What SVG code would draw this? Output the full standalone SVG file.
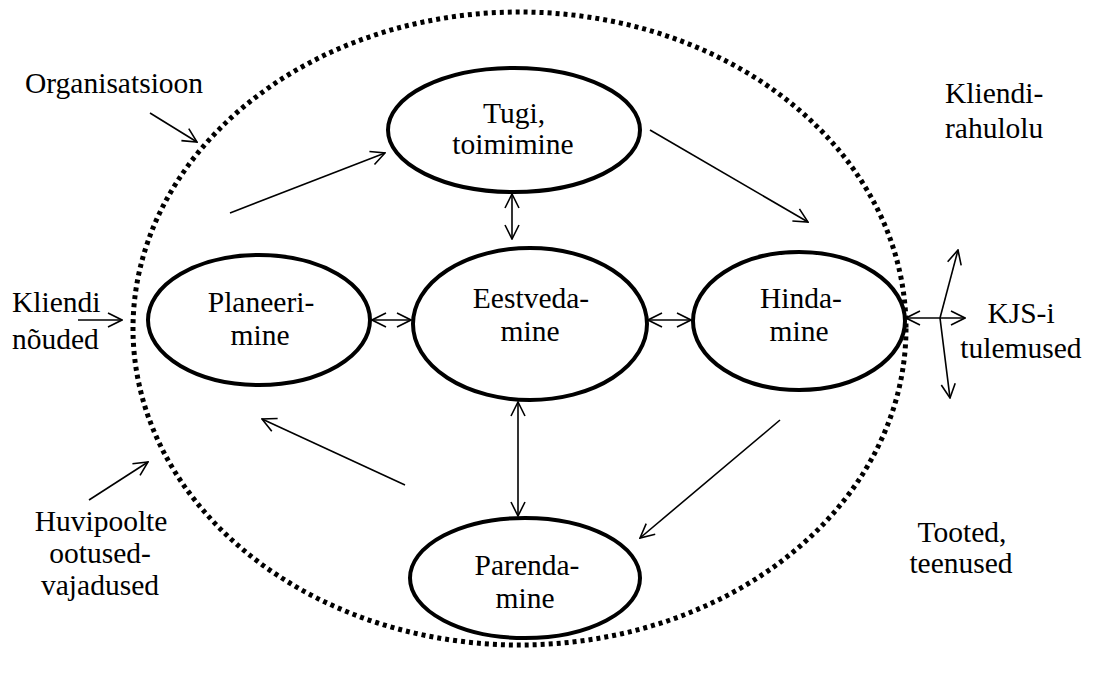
<svg xmlns="http://www.w3.org/2000/svg" width="1093" height="675" viewBox="0 0 1093 675">
  <style>
    .node { fill: #fff; stroke: #000; stroke-width: 4; }
    .org { fill: none; stroke: #000; stroke-width: 5; stroke-dasharray: 4 4; }
    .link { fill: none; stroke: #000; stroke-width: 1.6; }
    text { font-family: "Liberation Serif", "Times New Roman", serif; font-size: 29.5px; fill: #000; }
    .c { text-anchor: middle; }
  </style>
  <defs>
    <marker id="arrow" viewBox="0 0 16 16" refX="15" refY="8" markerWidth="16" markerHeight="16" markerUnits="userSpaceOnUse" orient="auto-start-reverse">
      <path d="M1,1 L15,8 L1,15" fill="none" stroke="#000" stroke-width="1.6"/>
    </marker>
  </defs>

  <rect width="1093" height="675" fill="#fff"/>

  <!-- organisation boundary -->
  <ellipse id="organisatsioon" class="org" cx="519.5" cy="328.5" rx="386.5" ry="316.5"/>

  <!-- connectors -->
  <g id="connectors">
    <line class="link" x1="150" y1="113" x2="197" y2="142" marker-end="url(#arrow)"/>
    <line class="link" x1="78" y1="320" x2="122" y2="320" marker-end="url(#arrow)"/>
    <line class="link" x1="89" y1="500" x2="148" y2="462" marker-end="url(#arrow)"/>
    <line class="link" x1="230" y1="213" x2="385" y2="153" marker-end="url(#arrow)"/>
    <line class="link" x1="650" y1="130" x2="808" y2="222" marker-end="url(#arrow)"/>
    <line class="link" x1="780" y1="420" x2="640" y2="538" marker-end="url(#arrow)"/>
    <line class="link" x1="405" y1="485" x2="262" y2="419" marker-end="url(#arrow)"/>
    <line class="link" x1="372" y1="320" x2="411" y2="320" marker-start="url(#arrow)" marker-end="url(#arrow)"/>
    <line class="link" x1="648" y1="320" x2="691" y2="320" marker-start="url(#arrow)" marker-end="url(#arrow)"/>
    <line class="link" x1="512" y1="194" x2="512" y2="239" marker-start="url(#arrow)" marker-end="url(#arrow)"/>
    <line class="link" x1="518" y1="402" x2="518" y2="516" marker-start="url(#arrow)" marker-end="url(#arrow)"/>
    <line class="link" x1="906" y1="318" x2="965" y2="318" marker-start="url(#arrow)" marker-end="url(#arrow)"/>
    <line class="link" x1="940" y1="318" x2="958" y2="250" marker-end="url(#arrow)"/>
    <line class="link" x1="940" y1="318" x2="950" y2="398" marker-end="url(#arrow)"/>
  </g>

  <!-- process nodes -->
  <g id="tugi">
    <ellipse class="node" cx="514" cy="130" rx="126" ry="62"/>
    <text class="c" x="514" y="123">Tugi,</text>
    <text class="c" x="513" y="154">toimimine</text>
  </g>
  <g id="planeerimine">
    <ellipse class="node" cx="259" cy="320" rx="111" ry="65"/>
    <text class="c" x="261" y="312">Planeeri-</text>
    <text class="c" x="260" y="345">mine</text>
  </g>
  <g id="eestvedamine">
    <ellipse class="node" cx="530" cy="324" rx="117" ry="76"/>
    <text class="c" x="531" y="308">Eestveda-</text>
    <text class="c" x="530" y="341">mine</text>
  </g>
  <g id="hindamine">
    <ellipse class="node" cx="799" cy="321" rx="106" ry="69"/>
    <text class="c" x="801" y="308">Hinda-</text>
    <text class="c" x="799" y="341">mine</text>
  </g>
  <g id="parendamine">
    <ellipse class="node" cx="525" cy="578" rx="115" ry="60"/>
    <text class="c" x="527" y="575">Parenda-</text>
    <text class="c" x="525" y="608">mine</text>
  </g>

  <!-- surrounding labels -->
  <g id="labels">
    <text x="25" y="93">Organisatsioon</text>
    <text x="12" y="312">Kliendi</text>
    <text x="12" y="349">nõuded</text>
    <text class="c" x="101" y="531">Huvipoolte</text>
    <text class="c" x="100" y="563">ootused-</text>
    <text class="c" x="100" y="595">vajadused</text>
    <text x="945" y="103">Kliendi-</text>
    <text x="945" y="138">rahulolu</text>
    <text class="c" x="1021" y="323">KJS-i</text>
    <text class="c" x="1021" y="358">tulemused</text>
    <text class="c" x="962" y="542">Tooted,</text>
    <text class="c" x="961" y="573">teenused</text>
  </g>
</svg>
